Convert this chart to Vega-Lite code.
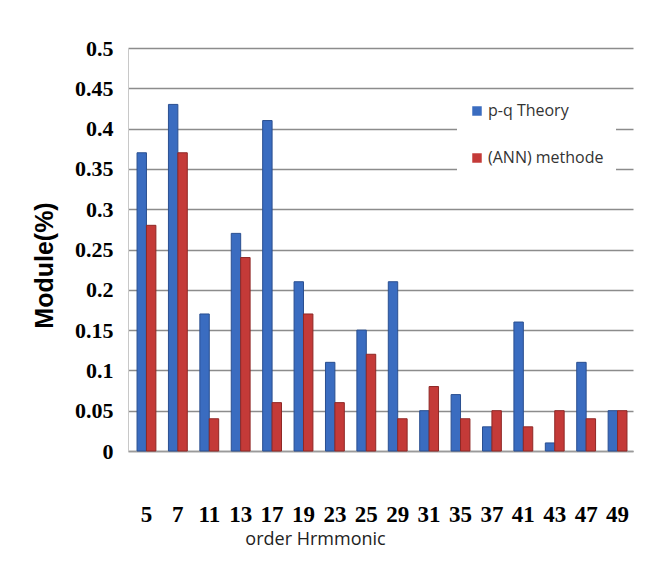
{
  "$schema": "https://vega.github.io/schema/vega-lite/v6.json",
  "autosize": "none",
  "width": 505,
  "height": 403,
  "padding": {"left": 128, "top": 48, "right": 21, "bottom": 116},
  "background": "white",
  "data": {
    "values": [
      {"order": 5, "series": "p-q Theory", "value": 0.37},
      {"order": 7, "series": "p-q Theory", "value": 0.43},
      {"order": 11, "series": "p-q Theory", "value": 0.17},
      {"order": 13, "series": "p-q Theory", "value": 0.27},
      {"order": 17, "series": "p-q Theory", "value": 0.41},
      {"order": 19, "series": "p-q Theory", "value": 0.21},
      {"order": 23, "series": "p-q Theory", "value": 0.11},
      {"order": 25, "series": "p-q Theory", "value": 0.15},
      {"order": 29, "series": "p-q Theory", "value": 0.21},
      {"order": 31, "series": "p-q Theory", "value": 0.05},
      {"order": 35, "series": "p-q Theory", "value": 0.07},
      {"order": 37, "series": "p-q Theory", "value": 0.03},
      {"order": 41, "series": "p-q Theory", "value": 0.16},
      {"order": 43, "series": "p-q Theory", "value": 0.01},
      {"order": 47, "series": "p-q Theory", "value": 0.11},
      {"order": 49, "series": "p-q Theory", "value": 0.05},
      {"order": 5, "series": "(ANN) methode", "value": 0.28},
      {"order": 7, "series": "(ANN) methode", "value": 0.37},
      {"order": 11, "series": "(ANN) methode", "value": 0.04},
      {"order": 13, "series": "(ANN) methode", "value": 0.24},
      {"order": 17, "series": "(ANN) methode", "value": 0.06},
      {"order": 19, "series": "(ANN) methode", "value": 0.17},
      {"order": 23, "series": "(ANN) methode", "value": 0.06},
      {"order": 25, "series": "(ANN) methode", "value": 0.12},
      {"order": 29, "series": "(ANN) methode", "value": 0.04},
      {"order": 31, "series": "(ANN) methode", "value": 0.08},
      {"order": 35, "series": "(ANN) methode", "value": 0.04},
      {"order": 37, "series": "(ANN) methode", "value": 0.05},
      {"order": 41, "series": "(ANN) methode", "value": 0.03},
      {"order": 43, "series": "(ANN) methode", "value": 0.05},
      {"order": 47, "series": "(ANN) methode", "value": 0.04},
      {"order": 49, "series": "(ANN) methode", "value": 0.05}
    ]
  },
  "mark": {"type": "bar", "strokeWidth": 1},
  "encoding": {
    "x": {
      "field": "order",
      "type": "ordinal",
      "sort": "ascending",
      "scale": {"paddingInner": 0.4, "paddingOuter": 0.24, "align": 0.6},
      "axis": {
        "title": "order Hrmmonic",
        "titleX": 187,
        "titleAlign": "center",
        "labelAngle": 0,
        "labelFont": "Liberation Serif",
        "labelFontWeight": "bold",
        "labelFontSize": 23,
        "labelColor": "black",
        "labelPadding": 52,
        "ticks": false,
        "domainColor": "#9a9a9a",
        "domainWidth": 1.5,
        "titleFont": "Open Sans",
        "titleFontSize": 18,
        "titleFontWeight": "normal",
        "titleColor": "#222",
        "titlePadding": 4
      }
    },
    "xOffset": {"field": "series", "sort": ["p-q Theory", "(ANN) methode"]},
    "y": {
      "field": "value",
      "type": "quantitative",
      "scale": {"domain": [0, 0.5]},
      "axis": {
        "title": "Module(%)",
        "titleX": -84,
        "titleY": 217,
        "values": [0, 0.05, 0.1, 0.15, 0.2, 0.25, 0.3, 0.35, 0.4, 0.45, 0.5],
        "format": "~g",
        "labelFont": "Liberation Serif",
        "labelFontWeight": "bold",
        "labelFontSize": 22,
        "labelColor": "black",
        "labelPadding": 15,
        "ticks": false,
        "domainColor": "#c8c8c8",
        "gridColor": "#8c8c8c",
        "gridWidth": 1.5,
        "titleFont": "Liberation Sans",
        "titleFontSize": 25,
        "titleFontWeight": "bold",
        "titleColor": "black",
        "titleBaseline": "middle"
      }
    },
    "color": {
      "field": "series",
      "type": "nominal",
      "sort": ["p-q Theory", "(ANN) methode"],
      "scale": {"domain": ["p-q Theory", "(ANN) methode"], "range": ["#3a6cc0", "#c43a38"]},
      "legend": {
        "title": null,
        "orient": "none",
        "legendX": 329,
        "legendY": 43,
        "fillColor": "white",
        "padding": 12,
        "symbolType": "square",
        "symbolSize": 90,
        "symbolStrokeWidth": 0,
        "labelFont": "Open Sans",
        "labelFontSize": 16,
        "labelColor": "#333",
        "rowPadding": 31,
        "labelOffset": 3
      }
    },
    "stroke": {
      "field": "series",
      "type": "nominal",
      "scale": {"domain": ["p-q Theory", "(ANN) methode"], "range": ["#2a4f90", "#8f2826"]},
      "legend": null
    }
  },
  "config": {"view": {"stroke": null}}
}
